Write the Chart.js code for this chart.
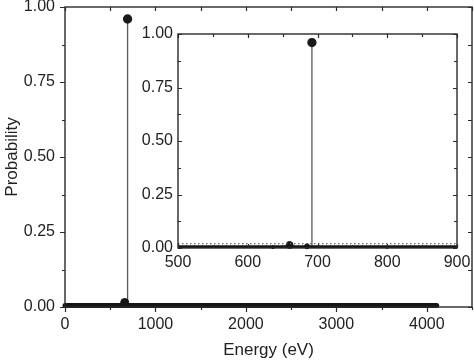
<!DOCTYPE html>
<html>
<head>
<meta charset="utf-8">
<script src="https://cdn.jsdelivr.net/npm/chart.js@4/dist/chart.umd.min.js"></script>
<style>
  html, body { margin: 0; padding: 0; background: #fff; }
  #wrap { position: relative; width: 474px; height: 361px; }
  #main { position: absolute; left: 0; top: 0; }
  #inset { position: absolute; left: 130px; top: 24px; }
</style>
</head>
<body>
<div id="wrap">
  <canvas id="main" width="474" height="361"></canvas>
  <canvas id="inset" width="340" height="256"></canvas>
</div>
<script>
// Main panel: whole energy range
const mainXTicks = [0, 1000, 2000, 3000, 4000];
const mainXMinor = [500, 1500, 2500, 3500, 4500];
const yTicks = [0, 0.25, 0.5, 0.75, 1.0];
const yMinor = [0.125, 0.375, 0.625, 0.875];

// dense near-zero levels show up as a thick band
const baselineMain = [{ x: 0, y: 0.005 }, { x: 4110, y: 0.005 }];
const smallPeaksMain = [{ x: 660, y: 0.015 }];

// the dominant line
const peakStem = [{ x: 692, y: 0 }, { x: 692, y: 0.96 }];

// Inset: 500 - 900 eV zoom
const insetXTicks = [500, 600, 700, 800, 900];
const insetXMinor = [550, 650, 750, 850];
const baselineInset = [{ x: 500, y: 0.006 }, { x: 900, y: 0.006 }];
const dotsInset = [{ x: 500, y: 0.02 }, { x: 900, y: 0.02 }];
const smallPeaksInset = [
  { x: 636, y: 0.004 },
  { x: 660, y: 0.014 },
  { x: 685, y: 0.008 },
  { x: 800, y: 0.003 }
];
const smallPeakRadius = [1.5, 3.5, 2.5, 1.2];

Chart.defaults.font.family = "'Liberation Sans', Arial, sans-serif";
Chart.defaults.font.size = 16;
Chart.defaults.color = '#222';

// box frame with major/minor tick marks (Origin style)
const frameTicks = {
  id: 'frameTicks',
  afterDatasetsDraw(chart, args, opts) {
    const { ctx, chartArea: a, scales: { x, y } } = chart;
    const dir = opts.outward ? -1 : 1;
    ctx.save();
    ctx.strokeStyle = '#2a2a2a';
    ctx.lineWidth = 1.4;
    ctx.strokeRect(a.left, a.top, a.right - a.left, a.bottom - a.top);
    ctx.lineWidth = 1.2;
    ctx.beginPath();
    const xMarks = (vals, len, inLen) => vals.forEach(v => {
      const px = Math.round(x.getPixelForValue(v)) + 0.5;
      ctx.moveTo(px, a.bottom); ctx.lineTo(px, a.bottom - dir * len);
      ctx.moveTo(px, a.top); ctx.lineTo(px, a.top + inLen);
    });
    const yMarks = (vals, len, inLen) => vals.forEach(v => {
      const py = Math.round(y.getPixelForValue(v)) + 0.5;
      ctx.moveTo(a.left, py); ctx.lineTo(a.left + dir * len, py);
      ctx.moveTo(a.right, py); ctx.lineTo(a.right - inLen, py);
    });
    xMarks(opts.xMajor, opts.major, opts.inMajor);
    xMarks(opts.xMinor, opts.minor, opts.inMinor);
    yMarks(yTicks, opts.major, opts.inMajor);
    yMarks(yMinor, opts.minor, opts.inMinor);
    ctx.stroke();
    ctx.restore();
  }
};

// pin axis boxes to fixed sizes, drop label overflow padding
function fixSize(prop, size) {
  return s => {
    s[prop] = size;
    s.paddingTop = 0; s.paddingBottom = 0;
    s.paddingLeft = 0; s.paddingRight = 0;
  };
}

const noGrid = { display: false, drawTicks: false, tickLength: 0 };

function stemDataset(data, radius) {
  return {
    type: 'line',
    data: data,
    borderColor: '#5a5a5a',
    borderWidth: 1.3,
    pointRadius: ctx => ctx.dataIndex === 1 ? radius : 0,
    pointBackgroundColor: '#1a1a1a',
    pointBorderColor: '#1a1a1a',
    clip: false
  };
}

new Chart(document.getElementById('main'), {
  type: 'scatter',
  data: {
    datasets: [
      {
        type: 'line',
        data: baselineMain,
        borderColor: '#151515',
        borderWidth: 5,
        borderCapStyle: 'round',
        pointRadius: 0,
        clip: false
      },
      {
        data: smallPeaksMain,
        pointRadius: 4,
        backgroundColor: '#151515',
        borderColor: '#151515',
        clip: false
      },
      stemDataset(peakStem, 4)
    ]
  },
  options: {
    responsive: false,
    animation: false,
    events: [],
    layout: { autoPadding: false, padding: { top: 7, right: 2, left: 0, bottom: 0 } },
    plugins: {
      legend: { display: false },
      tooltip: { enabled: false },
      frameTicks: {
        outward: true, major: 5, minor: 3, inMajor: 4, inMinor: 4,
        xMajor: mainXTicks, xMinor: mainXMinor
      }
    },
    scales: {
      x: {
        type: 'linear',
        min: 0,
        max: 4500,
        afterBuildTicks: s => { s.ticks = mainXTicks.map(v => ({ value: v })); },
        afterFit: fixSize('height', 54),
        grid: noGrid,
        border: { display: false },
        ticks: { padding: 8, maxRotation: 0, callback: v => String(v) },
        title: { display: true, text: 'Energy (eV)', font: { size: 17 }, padding: { top: 0, bottom: 0 } }
      },
      y: {
        min: 0,
        max: 1,
        afterBuildTicks: s => { s.ticks = yTicks.map(v => ({ value: v })); },
        afterFit: fixSize('width', 65),
        grid: noGrid,
        border: { display: false },
        ticks: { padding: 10, callback: v => v.toFixed(2) },
        title: { display: true, text: 'Probability', font: { size: 17 }, padding: { top: 2, bottom: 0 } }
      }
    }
  },
  plugins: [frameTicks]
});

new Chart(document.getElementById('inset'), {
  type: 'scatter',
  data: {
    datasets: [
      {
        type: 'line',
        data: baselineInset,
        borderColor: '#151515',
        borderWidth: 3,
        pointRadius: 0
      },
      {
        type: 'line',
        data: dotsInset,
        borderColor: '#666',
        borderWidth: 1.2,
        borderDash: [1.5, 2.5],
        pointRadius: 0
      },
      {
        data: smallPeaksInset,
        pointRadius: smallPeakRadius,
        backgroundColor: '#151515',
        borderColor: '#151515',
        clip: false
      },
      stemDataset(peakStem, 4)
    ]
  },
  options: {
    responsive: false,
    animation: false,
    events: [],
    layout: { autoPadding: false, padding: { top: 10, right: 13, left: 0, bottom: 0 } },
    plugins: {
      legend: { display: false },
      tooltip: { enabled: false },
      frameTicks: {
        outward: false, major: 4, minor: 3, inMajor: 4, inMinor: 3,
        xMajor: insetXTicks, xMinor: insetXMinor
      }
    },
    scales: {
      x: {
        type: 'linear',
        min: 500,
        max: 900,
        afterBuildTicks: s => { s.ticks = insetXTicks.map(v => ({ value: v })); },
        afterFit: fixSize('height', 32),
        grid: noGrid,
        border: { display: false },
        ticks: { padding: 5, maxRotation: 0, callback: v => String(v) }
      },
      y: {
        min: 0,
        max: 1,
        afterBuildTicks: s => { s.ticks = yTicks.map(v => ({ value: v })); },
        afterFit: fixSize('width', 48),
        grid: noGrid,
        border: { display: false },
        ticks: { padding: 5, callback: v => v.toFixed(2) }
      }
    }
  },
  plugins: [frameTicks]
});
</script>
</body>
</html>
